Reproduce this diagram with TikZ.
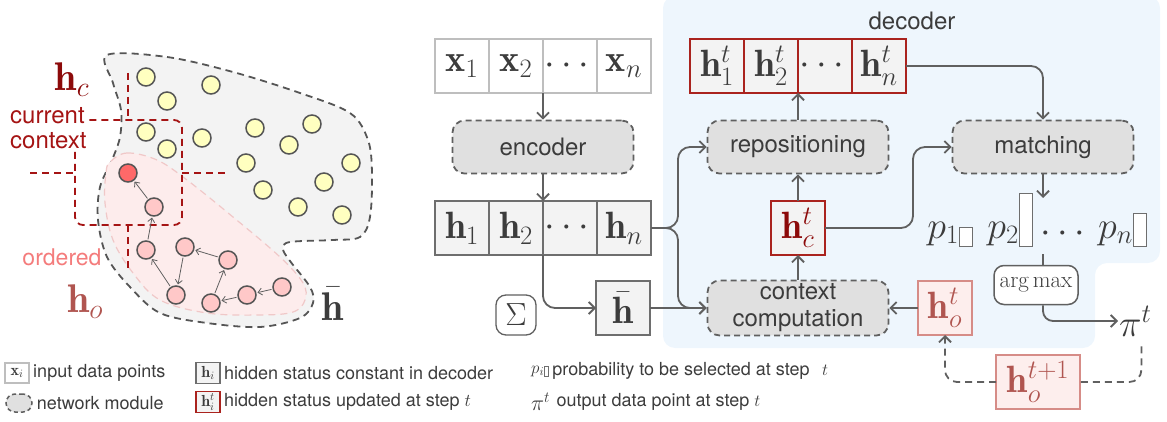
\RequirePackage{fix-cm}
\documentclass[tikz,border=0pt]{standalone}
\usepackage{amsmath}
\usepackage{fontspec}
\setsansfont{TeX Gyre Heros}
\usepackage{tikz}
\usetikzlibrary{arrows.meta,positioning}
\usepackage{xcolor}
\definecolor{decblue}{RGB}{238,246,253}
\definecolor{modgray}{RGB}{224,224,224}
\definecolor{linegray}{RGB}{96,96,96}
\definecolor{cellfill}{RGB}{243,243,243}
\definecolor{xgray}{RGB}{190,190,190}
\definecolor{cellgray}{RGB}{110,110,110}
\definecolor{hcred}{RGB}{170,35,30}
\definecolor{hcdark}{RGB}{140,10,10}
\definecolor{hofill}{RGB}{253,238,237}
\definecolor{hoborder}{RGB}{214,140,135}
\definecolor{hotext}{RGB}{176,85,80}
\definecolor{textgray}{RGB}{60,60,60}
\definecolor{blobline}{RGB}{85,85,85}
\definecolor{pinkfill}{RGB}{253,236,236}
\definecolor{pinkline}{RGB}{240,200,200}
\definecolor{ptyellow}{RGB}{255,255,192}
\definecolor{ptpink}{RGB}{255,200,200}
\definecolor{ptred}{RGB}{255,105,105}
\definecolor{ctxred}{RGB}{165,20,20}
\definecolor{orderpink}{RGB}{244,124,124}
\tikzstyle{arrow} = [line width=1.8pt,-{Straight Barb[length=6pt,width=12pt]},color=linegray]
\tikzstyle{loopline} = [line width=1.8pt,dash pattern=on 7pt off 5pt,color=linegray,rounded corners=12pt]
\tikzstyle{module} = [draw=linegray,fill=modgray,line width=1.8pt,dash pattern=on 6pt off 4pt,rounded corners=12pt,minimum width=181pt,minimum height=53pt,align=center,font=\sffamily\fontsize{24}{27}\selectfont,text=textgray]
\tikzstyle{xcell} = [draw=xgray,fill=white,line width=1.2pt,minimum width=54pt,minimum height=54pt,inner sep=0pt,outer sep=0pt,font=\fontsize{38}{40}\selectfont,text=textgray]
\tikzstyle{hcell} = [xcell,draw=cellgray,fill=cellfill]
\tikzstyle{htcell} = [xcell,draw=hcred,fill=cellfill]
\tikzstyle{hocell} = [xcell,draw=hoborder,fill=hofill,text=hotext]
\tikzstyle{pbar} = [draw=cellgray,fill=white,line width=1.2pt,minimum width=13pt,inner sep=0pt,anchor=south west]
\tikzstyle{datapt} = [circle,draw=blobline,line width=1.5pt,minimum size=18pt,inner sep=0pt,fill=ptyellow]
\tikzstyle{orderpt} = [datapt,fill=ptpink]
\tikzstyle{order} = [line width=0.8pt,-{Straight Barb[length=4pt,width=7pt]},color=linegray,shorten >=1pt,shorten <=1pt]
\tikzstyle{ctxline} = [line width=1.8pt,dash pattern=on 7pt off 5pt,color=ctxred]
\tikzstyle{legendtext} = [font=\sffamily\fontsize{18}{20}\selectfont,text=textgray,inner sep=0pt]

\begin{document}
\begin{tikzpicture}[x=1pt, y=-1pt]
\useasboundingbox (0,0) rectangle (1167,422);

% Point set
\draw[blobline, fill=cellfill, line width=1.8pt, dash pattern=on 7pt off 5pt] plot[smooth cycle, tension=0.55] coordinates {(107,55) (167,57) (233,72) (300,93) (350,113) (368,140) (372,173) (370,217) (360,237) (333,240) (290,242) (283,249) (290,261) (310,287) (313,303) (300,318) (260,327) (207,323) (160,313) (130,287) (107,257) (98,220) (100,187) (112,160) (120,137) (121,110) (113,83)};
\draw[pinkline, fill=pinkfill, line width=1.2pt, dash pattern=on 7pt off 5pt] plot[smooth cycle, tension=0.6] coordinates {(110,162) (127,153) (157,160) (187,180) (233,217) (280,257) (303,283) (305,300) (293,312) (260,315) (207,313) (160,300) (133,273) (113,240) (105,203) (106,173)};

% Current context
\draw[ctxline, rounded corners=8pt] (75,120) rectangle (182,225);
\draw[ctxline] (128,73) -- (128,120);
\draw[ctxline] (128,225) -- (128,270);
\draw[ctxline] (30,173) -- (75,173);
\draw[ctxline] (182,173) -- (227,173);
\node[anchor=west, align=left, fill=white, inner sep=2pt, font=\sffamily\fontsize{24}{25}\selectfont, text=ctxred] (ctxlabel) at (8,128) {current\\context};
\node[font=\fontsize{40}{42}\selectfont, text=hcdark] (hclabel) at (72,80) {$\mathbf{h}_c$};
\node[font=\sffamily\fontsize{23}{25}\selectfont, text=orderpink] (ordlabel) at (62,257) {ordered};
\node[font=\fontsize{40}{42}\selectfont, text=hotext] (holabel) at (85,302) {$\mathbf{h}_o$};
\node[font=\fontsize{40}{42}\selectfont, text=textgray] (hbarlabel) at (333,304) {$\bar{\mathbf{h}}$};

\node[datapt] (y1) at (146,77) {};
\node[datapt] (y2) at (211,85) {};
\node[datapt] (y3) at (167,101) {};
\node[datapt] (y4) at (146,132) {};
\node[datapt] (y5) at (202,138) {};
\node[datapt] (y6) at (255,128) {};
\node[datapt] (y7) at (312,124) {};
\node[datapt] (y8) at (167,149) {};
\node[datapt] (y9) at (289,145) {};
\node[datapt] (y10) at (246,163) {};
\node[datapt] (y11) at (351,163) {};
\node[datapt] (y12) at (324,182) {};
\node[datapt] (y13) at (263,190) {};
\node[datapt] (y14) at (298,207) {};
\node[datapt] (y15) at (342,215) {};

\node[orderpt, fill=ptred] (cur) at (128,173) {};
\node[orderpt] (o1) at (154,207) {};
\node[orderpt] (o2) at (146,250) {};
\node[orderpt] (o3) at (176,295) {};
\node[orderpt] (o4) at (185,247) {};
\node[orderpt] (o5) at (228,260) {};
\node[orderpt] (o6) at (211,303) {};
\node[orderpt] (o7) at (247,295) {};
\node[orderpt] (o8) at (282,287) {};
\draw[order] (o8) -- (o7);
\draw[order] (o7) -- (o6);
\draw[order] (o6) -- (o5);
\draw[order] (o5) -- (o4);
\draw[order] (o4) -- (o3);
\draw[order] (o3) -- (o2);
\draw[order] (o2) -- (o1);
\draw[order] (o1) -- (cur);

% Decoder background
\fill[decblue, rounded corners=12pt] (663,-4) -- (1160,-4) -- (1160,263) -- (1095,263) -- (1095,348) -- (663,348) -- cycle;
\node[font=\sffamily\fontsize{24}{26}\selectfont, text=textgray] (declabel) at (912,21) {decoder};

% Encoder side
\node[xcell] (x1) at (462,66) {$\mathbf{x}_1$};
\node[xcell, right=0pt of x1] (x2) {$\mathbf{x}_2$};
\node[xcell, right=0pt of x2] (x3) {$\cdots$};
\node[xcell, right=0pt of x3] (xn) {$\mathbf{x}_n$};
\node[module] (enc) at (543,147) {encoder};
\node[hcell] (h1) at (462,228) {$\mathbf{h}_1$};
\node[hcell, right=0pt of h1] (h2) {$\mathbf{h}_2$};
\node[hcell, right=0pt of h2] (h3) {$\cdots$};
\node[hcell, right=0pt of h3] (hn) {$\mathbf{h}_n$};
\node[hcell] (hbar) at (623,308) {$\bar{\mathbf{h}}$};
\node[draw=linegray, fill=white, line width=1.3pt, rounded corners=10pt, minimum size=40pt, inner sep=0pt, font=\fontsize{32}{34}\selectfont, text=textgray] (sum) at (516,315) {$\Sigma$};

% Decoder side
\node[htcell] (ht1) at (717,66) {$\mathbf{h}_1^t$};
\node[htcell, right=0pt of ht1] (ht2) {$\mathbf{h}_2^t$};
\node[htcell, right=0pt of ht2] (ht3) {$\cdots$};
\node[htcell, right=0pt of ht3] (htn) {$\mathbf{h}_n^t$};
\node[module] (repos) at (798,147) {repositioning};
\node[htcell, text=hcdark] (hc) at (798,228) {$\mathbf{h}_c^t$};
\node[module] (ctx) at (798,308) {context\\computation};
\node[module] (match) at (1043,147) {matching};
\node[hocell] (hot) at (945,308) {$\mathbf{h}_o^t$};
\node[hocell, minimum width=84pt] (hot1) at (1038,382) {$\mathbf{h}_o^{t+1}$};

% Probabilities
\node[pbar, minimum height=19pt] (p1bar) at (959,247) {};
\node[pbar, minimum height=53pt] (p2bar) at (1019,247) {};
\node[pbar, minimum height=33pt] (pnbar) at (1133,247) {};
\node[anchor=base east, inner sep=0pt, font=\fontsize{38}{40}\selectfont, text=textgray] (p1) at (p1bar.south west |- 0,238) {$p_1$};
\node[anchor=base east, inner sep=0pt, font=\fontsize{38}{40}\selectfont, text=textgray] (p2) at (p2bar.south west |- 0,238) {$p_2$};
\node[anchor=base east, inner sep=0pt, font=\fontsize{38}{40}\selectfont, text=textgray] (pn) at (pnbar.south west |- 0,238) {$p_n$};
\node[anchor=base, inner sep=0pt, font=\fontsize{38}{40}\selectfont, text=textgray] (pdots) at (1066,242) {$\cdots$};
\coordinate (pout) at (1043,198);
\coordinate (pbot) at (1043,254);
\node[draw=linegray, fill=white, line width=1.5pt, rounded corners=10pt, minimum width=84pt, minimum height=39pt, inner sep=0pt, font=\fontsize{23}{25}\selectfont, text=textgray] (amax) at (1036,285) {$\arg\max$};
\node[anchor=west, inner sep=1pt, font=\fontsize{38}{40}\selectfont, text=textgray] (pi) at (1118,321) {$\pi^t$};

% Connections
\draw[arrow] (x2.south east) -- (enc.north);
\draw[arrow] (enc.south) -- (h2.north east);
\draw[arrow, rounded corners=12pt] (h2.south east) |- (hbar.west);
\draw[arrow] (hbar.east) -- (ctx.west);
\draw[arrow, rounded corners=12pt] (hn.east) -- ++(27,0) |- (repos.west);
\draw[arrow, rounded corners=12pt] (hn.east) -- ++(27,0) |- (ctx.west);
\draw[arrow] (ctx.north) -- (hc.south);
\draw[arrow] (hc.north) -- (repos.south);
\draw[arrow] (repos.north) -- (ht2.south east);
\draw[arrow, rounded corners=12pt] (hc.east) -- ++(88,0) |- (match.west);
\draw[arrow, rounded corners=12pt] (htn.east) -| (match.north);
\draw[arrow] (match.south) -- (pout);
\draw[line width=1.8pt, linegray] (pbot) -- (pbot |- amax.north);
\draw[arrow, rounded corners=10pt] (pbot |- amax.south) |- (pi.west);
\draw[arrow] (hot.west) -- (ctx.east);
\draw[loopline] ([xshift=6pt,yshift=-9pt]pi.south) |- (hot1.east);
\draw[loopline, -{Straight Barb[length=6pt,width=12pt]}] (hot1.west) -| (hot.south);

% Legend
\node[xcell, minimum width=24pt, minimum height=20pt, font=\fontsize{16}{18}\selectfont] (lgx) at (17,373) {$\mathbf{x}_i$};
\node[legendtext, right=4pt of lgx] (lgxtext) {input data points};
\node[module, minimum width=26pt, minimum height=18pt, rounded corners=9pt, line width=1.5pt, dash pattern=on 4pt off 3pt] (lgm) at (19,403) {};
\node[legendtext, right=4pt of lgm] (lgmtext) {network module};
\node[hcell, minimum width=24pt, minimum height=21pt, font=\fontsize{16}{18}\selectfont] (lgh) at (208,373) {$\mathbf{h}_i$};
\node[legendtext, right=4pt of lgh] (lghtext) {hidden status constant in decoder};
\node[htcell, minimum width=24pt, minimum height=21pt, font=\fontsize{16}{18}\selectfont] (lght) at (208,402) {$\mathbf{h}_i^t$};
\node[legendtext, right=4pt of lght] (lghttext) {hidden status updated at step {\rmfamily$t$}};
\node[anchor=west, inner sep=0pt, font=\fontsize{17}{19}\selectfont, text=textgray] (lgp) at (531,371) {$p_i$};
\node[pbar, minimum width=4pt, minimum height=10pt, line width=0.8pt, anchor=west] (lgpbar) at (lgp.east) {};
\node[legendtext, right=3pt of lgpbar] (lgptext) {probability to be selected at step\hspace{0.7em}{\fontsize{17}{19}\selectfont$t$}};
\node[anchor=west, inner sep=0pt, font=\fontsize{22}{24}\selectfont, text=textgray] (lgpi) at (531,402) {$\pi^t$};
\node[legendtext, right=6pt of lgpi] (lgpitext) {output data point at step {\fontsize{17}{19}\selectfont$t$}};
\end{tikzpicture}
\end{document}
